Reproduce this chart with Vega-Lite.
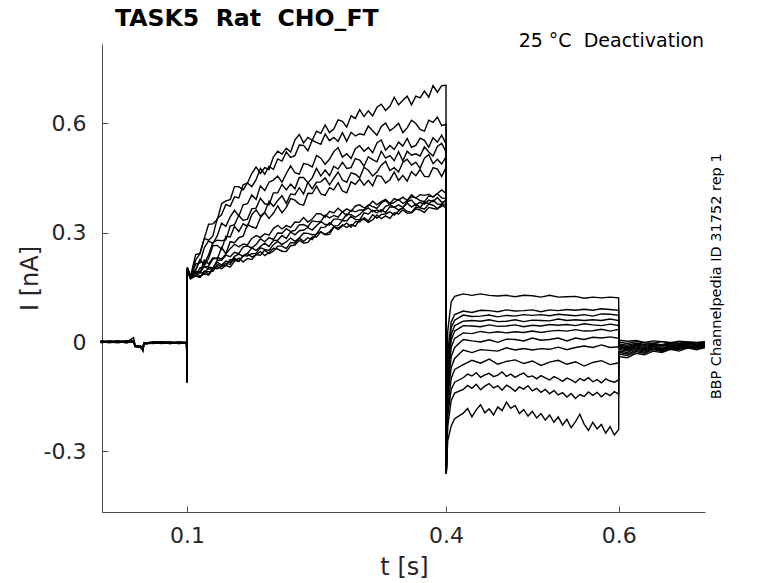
{
  "$schema": "https://vega.github.io/schema/vega-lite/v6.json",
  "width": 603,
  "height": 468,
  "autosize": "none",
  "padding": {"left": 102, "top": 44, "right": 73, "bottom": 71},
  "background": "white",
  "config": {"view": {"stroke": null}, "font": "DejaVu Sans"},
  "layer": [
    {
      "data": {
        "values": [
          {"sweep":1,"t":0,"I":0.002},{"sweep":1,"t":0.01,"I":-0.001},{"sweep":1,"t":0.02,"I":0.003},{"sweep":1,"t":0.03,"I":0},{"sweep":1,"t":0.038,"I":0.012},{"sweep":1,"t":0.04,"I":-0.01},{"sweep":1,"t":0.046,"I":-0.012},{"sweep":1,"t":0.049,"I":-0.025},{"sweep":1,"t":0.05,"I":-0.004},{"sweep":1,"t":0.06,"I":-0.001},{"sweep":1,"t":0.07,"I":0.001},{"sweep":1,"t":0.08,"I":-0.003},{"sweep":1,"t":0.09,"I":0},{"sweep":1,"t":0.0995,"I":-0.002},
          {"sweep":1,"t":0.1,"I":-0.11},{"sweep":1,"t":0.1003,"I":0.205},{"sweep":1,"t":0.104,"I":0.18},
          {"sweep":1,"t":0.11,"I":0.24},{"sweep":1,"t":0.115,"I":0.243},{"sweep":1,"t":0.12,"I":0.284},{"sweep":1,"t":0.125,"I":0.323},{"sweep":1,"t":0.13,"I":0.324},{"sweep":1,"t":0.135,"I":0.335},{"sweep":1,"t":0.14,"I":0.379},{"sweep":1,"t":0.145,"I":0.387},{"sweep":1,"t":0.15,"I":0.39},{"sweep":1,"t":0.155,"I":0.426},{"sweep":1,"t":0.16,"I":0.426},{"sweep":1,"t":0.165,"I":0.417},{"sweep":1,"t":0.17,"I":0.436},{"sweep":1,"t":0.175,"I":0.462},{"sweep":1,"t":0.18,"I":0.48},{"sweep":1,"t":0.185,"I":0.462},{"sweep":1,"t":0.19,"I":0.478},{"sweep":1,"t":0.195,"I":0.473},{"sweep":1,"t":0.2,"I":0.507},{"sweep":1,"t":0.205,"I":0.523},{"sweep":1,"t":0.21,"I":0.515},{"sweep":1,"t":0.215,"I":0.531},{"sweep":1,"t":0.22,"I":0.521},{"sweep":1,"t":0.225,"I":0.554},{"sweep":1,"t":0.23,"I":0.569},{"sweep":1,"t":0.235,"I":0.546},{"sweep":1,"t":0.24,"I":0.561},{"sweep":1,"t":0.245,"I":0.553},{"sweep":1,"t":0.25,"I":0.578},{"sweep":1,"t":0.255,"I":0.572},{"sweep":1,"t":0.26,"I":0.595},{"sweep":1,"t":0.265,"I":0.574},{"sweep":1,"t":0.27,"I":0.584},{"sweep":1,"t":0.275,"I":0.609},{"sweep":1,"t":0.28,"I":0.605},{"sweep":1,"t":0.285,"I":0.589},{"sweep":1,"t":0.29,"I":0.62},{"sweep":1,"t":0.295,"I":0.613},{"sweep":1,"t":0.3,"I":0.637},{"sweep":1,"t":0.305,"I":0.618},{"sweep":1,"t":0.31,"I":0.634},{"sweep":1,"t":0.315,"I":0.62},{"sweep":1,"t":0.32,"I":0.644},{"sweep":1,"t":0.325,"I":0.652},{"sweep":1,"t":0.33,"I":0.635},{"sweep":1,"t":0.335,"I":0.646},{"sweep":1,"t":0.34,"I":0.671},{"sweep":1,"t":0.345,"I":0.65},{"sweep":1,"t":0.35,"I":0.663},{"sweep":1,"t":0.355,"I":0.674},{"sweep":1,"t":0.36,"I":0.65},{"sweep":1,"t":0.365,"I":0.674},{"sweep":1,"t":0.37,"I":0.669},{"sweep":1,"t":0.375,"I":0.688},{"sweep":1,"t":0.38,"I":0.671},{"sweep":1,"t":0.385,"I":0.703},{"sweep":1,"t":0.39,"I":0.685},{"sweep":1,"t":0.395,"I":0.703},{"sweep":1,"t":0.4,"I":0.704},
          {"sweep":1,"t":0.4003,"I":-0.36},{"sweep":1,"t":0.402,"I":0.03},{"sweep":1,"t":0.406,"I":0.11},{"sweep":1,"t":0.41,"I":0.125},{"sweep":1,"t":0.42,"I":0.132},{"sweep":1,"t":0.43,"I":0.128},{"sweep":1,"t":0.44,"I":0.132},{"sweep":1,"t":0.45,"I":0.128},{"sweep":1,"t":0.46,"I":0.126},{"sweep":1,"t":0.47,"I":0.128},{"sweep":1,"t":0.48,"I":0.124},{"sweep":1,"t":0.49,"I":0.128},{"sweep":1,"t":0.5,"I":0.127},{"sweep":1,"t":0.51,"I":0.123},{"sweep":1,"t":0.52,"I":0.128},{"sweep":1,"t":0.53,"I":0.123},{"sweep":1,"t":0.54,"I":0.124},{"sweep":1,"t":0.55,"I":0.125},{"sweep":1,"t":0.56,"I":0.12},{"sweep":1,"t":0.57,"I":0.123},{"sweep":1,"t":0.58,"I":0.121},{"sweep":1,"t":0.59,"I":0.123},{"sweep":1,"t":0.6,"I":0.121},
          {"sweep":1,"t":0.6003,"I":0.005},{"sweep":1,"t":0.61,"I":0.002},{"sweep":1,"t":0.62,"I":0.004},{"sweep":1,"t":0.63,"I":-0.001},{"sweep":1,"t":0.64,"I":0.003},{"sweep":1,"t":0.65,"I":0.001},{"sweep":1,"t":0.66,"I":-0.002},{"sweep":1,"t":0.67,"I":0.002},{"sweep":1,"t":0.68,"I":0},{"sweep":1,"t":0.69,"I":-0.001},{"sweep":1,"t":0.7,"I":0.001},

          {"sweep":2,"t":0,"I":-0.001},{"sweep":2,"t":0.01,"I":0.002},{"sweep":2,"t":0.02,"I":0},{"sweep":2,"t":0.03,"I":0.003},{"sweep":2,"t":0.038,"I":0.004},{"sweep":2,"t":0.04,"I":-0.012},{"sweep":2,"t":0.046,"I":-0.014},{"sweep":2,"t":0.049,"I":-0.022},{"sweep":2,"t":0.05,"I":-0.006},{"sweep":2,"t":0.06,"I":-0.003},{"sweep":2,"t":0.07,"I":-0.001},{"sweep":2,"t":0.08,"I":-0.004},{"sweep":2,"t":0.09,"I":-0.002},{"sweep":2,"t":0.0995,"I":-0.003},
          {"sweep":2,"t":0.1,"I":-0.108},{"sweep":2,"t":0.1003,"I":0.2},{"sweep":2,"t":0.104,"I":0.178},
          {"sweep":2,"t":0.11,"I":0.225},{"sweep":2,"t":0.115,"I":0.242},{"sweep":2,"t":0.12,"I":0.284},{"sweep":2,"t":0.125,"I":0.279},{"sweep":2,"t":0.13,"I":0.291},{"sweep":2,"t":0.135,"I":0.339},{"sweep":2,"t":0.14,"I":0.349},{"sweep":2,"t":0.145,"I":0.377},{"sweep":2,"t":0.15,"I":0.372},{"sweep":2,"t":0.155,"I":0.398},{"sweep":2,"t":0.16,"I":0.395},{"sweep":2,"t":0.165,"I":0.431},{"sweep":2,"t":0.17,"I":0.436},{"sweep":2,"t":0.175,"I":0.426},{"sweep":2,"t":0.18,"I":0.445},{"sweep":2,"t":0.185,"I":0.476},{"sweep":2,"t":0.19,"I":0.46},{"sweep":2,"t":0.195,"I":0.482},{"sweep":2,"t":0.2,"I":0.473},{"sweep":2,"t":0.205,"I":0.502},{"sweep":2,"t":0.21,"I":0.496},{"sweep":2,"t":0.215,"I":0.521},{"sweep":2,"t":0.22,"I":0.506},{"sweep":2,"t":0.225,"I":0.511},{"sweep":2,"t":0.23,"I":0.54},{"sweep":2,"t":0.235,"I":0.539},{"sweep":2,"t":0.24,"I":0.524},{"sweep":2,"t":0.245,"I":0.553},{"sweep":2,"t":0.25,"I":0.547},{"sweep":2,"t":0.255,"I":0.542},{"sweep":2,"t":0.26,"I":0.57},{"sweep":2,"t":0.265,"I":0.552},{"sweep":2,"t":0.27,"I":0.561},{"sweep":2,"t":0.275,"I":0.55},{"sweep":2,"t":0.28,"I":0.574},{"sweep":2,"t":0.285,"I":0.55},{"sweep":2,"t":0.29,"I":0.575},{"sweep":2,"t":0.295,"I":0.565},{"sweep":2,"t":0.3,"I":0.571},{"sweep":2,"t":0.305,"I":0.568},{"sweep":2,"t":0.31,"I":0.592},{"sweep":2,"t":0.315,"I":0.579},{"sweep":2,"t":0.32,"I":0.567},{"sweep":2,"t":0.325,"I":0.591},{"sweep":2,"t":0.33,"I":0.6},{"sweep":2,"t":0.335,"I":0.579},{"sweep":2,"t":0.34,"I":0.588},{"sweep":2,"t":0.345,"I":0.6},{"sweep":2,"t":0.35,"I":0.574},{"sweep":2,"t":0.355,"I":0.587},{"sweep":2,"t":0.36,"I":0.608},{"sweep":2,"t":0.365,"I":0.599},{"sweep":2,"t":0.37,"I":0.583},{"sweep":2,"t":0.375,"I":0.578},{"sweep":2,"t":0.38,"I":0.608},{"sweep":2,"t":0.385,"I":0.602},{"sweep":2,"t":0.39,"I":0.617},{"sweep":2,"t":0.395,"I":0.593},{"sweep":2,"t":0.4,"I":0.597},
          {"sweep":2,"t":0.4003,"I":-0.36},{"sweep":2,"t":0.402,"I":-0.03},{"sweep":2,"t":0.406,"I":0.055},{"sweep":2,"t":0.41,"I":0.075},{"sweep":2,"t":0.42,"I":0.085},{"sweep":2,"t":0.43,"I":0.081},{"sweep":2,"t":0.44,"I":0.087},{"sweep":2,"t":0.45,"I":0.086},{"sweep":2,"t":0.46,"I":0.083},{"sweep":2,"t":0.47,"I":0.088},{"sweep":2,"t":0.48,"I":0.085},{"sweep":2,"t":0.49,"I":0.086},{"sweep":2,"t":0.5,"I":0.088},{"sweep":2,"t":0.51,"I":0.083},{"sweep":2,"t":0.52,"I":0.088},{"sweep":2,"t":0.53,"I":0.086},{"sweep":2,"t":0.54,"I":0.089},{"sweep":2,"t":0.55,"I":0.087},{"sweep":2,"t":0.56,"I":0.09},{"sweep":2,"t":0.57,"I":0.087},{"sweep":2,"t":0.58,"I":0.091},{"sweep":2,"t":0.59,"I":0.089},{"sweep":2,"t":0.6,"I":0.087},
          {"sweep":2,"t":0.6003,"I":0},{"sweep":2,"t":0.61,"I":-0.004},{"sweep":2,"t":0.62,"I":0.001},{"sweep":2,"t":0.63,"I":-0.002},{"sweep":2,"t":0.64,"I":-0.003},{"sweep":2,"t":0.65,"I":0.001},{"sweep":2,"t":0.66,"I":-0.002},{"sweep":2,"t":0.67,"I":-0.003},{"sweep":2,"t":0.68,"I":0},{"sweep":2,"t":0.69,"I":-0.002},{"sweep":2,"t":0.7,"I":-0.001},

          {"sweep":3,"t":0,"I":0.003},{"sweep":3,"t":0.01,"I":0},{"sweep":3,"t":0.02,"I":0.002},{"sweep":3,"t":0.03,"I":-0.002},{"sweep":3,"t":0.038,"I":0.002},{"sweep":3,"t":0.04,"I":-0.011},{"sweep":3,"t":0.046,"I":-0.013},{"sweep":3,"t":0.049,"I":-0.018},{"sweep":3,"t":0.05,"I":-0.003},{"sweep":3,"t":0.06,"I":0},{"sweep":3,"t":0.07,"I":-0.003},{"sweep":3,"t":0.08,"I":-0.001},{"sweep":3,"t":0.09,"I":-0.004},{"sweep":3,"t":0.0995,"I":-0.001},
          {"sweep":3,"t":0.1,"I":-0.112},{"sweep":3,"t":0.1003,"I":0.198},{"sweep":3,"t":0.104,"I":0.176},
          {"sweep":3,"t":0.11,"I":0.214},{"sweep":3,"t":0.115,"I":0.217},{"sweep":3,"t":0.12,"I":0.259},{"sweep":3,"t":0.125,"I":0.277},{"sweep":3,"t":0.13,"I":0.27},{"sweep":3,"t":0.135,"I":0.291},{"sweep":3,"t":0.14,"I":0.326},{"sweep":3,"t":0.145,"I":0.317},{"sweep":3,"t":0.15,"I":0.343},{"sweep":3,"t":0.155,"I":0.361},{"sweep":3,"t":0.16,"I":0.345},{"sweep":3,"t":0.165,"I":0.376},{"sweep":3,"t":0.17,"I":0.379},{"sweep":3,"t":0.175,"I":0.403},{"sweep":3,"t":0.18,"I":0.391},{"sweep":3,"t":0.185,"I":0.428},{"sweep":3,"t":0.19,"I":0.415},{"sweep":3,"t":0.195,"I":0.438},{"sweep":3,"t":0.2,"I":0.444},{"sweep":3,"t":0.205,"I":0.455},{"sweep":3,"t":0.21,"I":0.438},{"sweep":3,"t":0.215,"I":0.462},{"sweep":3,"t":0.22,"I":0.483},{"sweep":3,"t":0.225,"I":0.464},{"sweep":3,"t":0.23,"I":0.46},{"sweep":3,"t":0.235,"I":0.489},{"sweep":3,"t":0.24,"I":0.487},{"sweep":3,"t":0.245,"I":0.48},{"sweep":3,"t":0.25,"I":0.511},{"sweep":3,"t":0.255,"I":0.504},{"sweep":3,"t":0.26,"I":0.487},{"sweep":3,"t":0.265,"I":0.501},{"sweep":3,"t":0.27,"I":0.522},{"sweep":3,"t":0.275,"I":0.533},{"sweep":3,"t":0.28,"I":0.507},{"sweep":3,"t":0.285,"I":0.516},{"sweep":3,"t":0.29,"I":0.503},{"sweep":3,"t":0.295,"I":0.53},{"sweep":3,"t":0.3,"I":0.538},{"sweep":3,"t":0.305,"I":0.523},{"sweep":3,"t":0.31,"I":0.533},{"sweep":3,"t":0.315,"I":0.519},{"sweep":3,"t":0.32,"I":0.546},{"sweep":3,"t":0.325,"I":0.554},{"sweep":3,"t":0.33,"I":0.526},{"sweep":3,"t":0.335,"I":0.539},{"sweep":3,"t":0.34,"I":0.528},{"sweep":3,"t":0.345,"I":0.548},{"sweep":3,"t":0.35,"I":0.537},{"sweep":3,"t":0.355,"I":0.558},{"sweep":3,"t":0.36,"I":0.534},{"sweep":3,"t":0.365,"I":0.539},{"sweep":3,"t":0.37,"I":0.559},{"sweep":3,"t":0.375,"I":0.553},{"sweep":3,"t":0.38,"I":0.534},{"sweep":3,"t":0.385,"I":0.56},{"sweep":3,"t":0.39,"I":0.548},{"sweep":3,"t":0.395,"I":0.567},{"sweep":3,"t":0.4,"I":0.543},
          {"sweep":3,"t":0.4003,"I":-0.36},{"sweep":3,"t":0.402,"I":-0.05},{"sweep":3,"t":0.406,"I":0.04},{"sweep":3,"t":0.41,"I":0.06},{"sweep":3,"t":0.42,"I":0.074},{"sweep":3,"t":0.43,"I":0.07},{"sweep":3,"t":0.44,"I":0.071},{"sweep":3,"t":0.45,"I":0.074},{"sweep":3,"t":0.46,"I":0.069},{"sweep":3,"t":0.47,"I":0.073},{"sweep":3,"t":0.48,"I":0.071},{"sweep":3,"t":0.49,"I":0.075},{"sweep":3,"t":0.5,"I":0.073},{"sweep":3,"t":0.51,"I":0.075},{"sweep":3,"t":0.52,"I":0.072},{"sweep":3,"t":0.53,"I":0.076},{"sweep":3,"t":0.54,"I":0.074},{"sweep":3,"t":0.55,"I":0.072},{"sweep":3,"t":0.56,"I":0.075},{"sweep":3,"t":0.57,"I":0.071},{"sweep":3,"t":0.58,"I":0.077},{"sweep":3,"t":0.59,"I":0.076},{"sweep":3,"t":0.6,"I":0.073},
          {"sweep":3,"t":0.6003,"I":-0.005},{"sweep":3,"t":0.61,"I":-0.009},{"sweep":3,"t":0.62,"I":-0.003},{"sweep":3,"t":0.63,"I":-0.006},{"sweep":3,"t":0.64,"I":-0.004},{"sweep":3,"t":0.65,"I":-0.007},{"sweep":3,"t":0.66,"I":-0.001},{"sweep":3,"t":0.67,"I":-0.004},{"sweep":3,"t":0.68,"I":-0.003},{"sweep":3,"t":0.69,"I":-0.005},{"sweep":3,"t":0.7,"I":-0.002},

          {"sweep":4,"t":0,"I":0},{"sweep":4,"t":0.01,"I":0.003},{"sweep":4,"t":0.02,"I":-0.001},{"sweep":4,"t":0.03,"I":0.002},{"sweep":4,"t":0.038,"I":0.003},{"sweep":4,"t":0.04,"I":-0.009},{"sweep":4,"t":0.046,"I":-0.015},{"sweep":4,"t":0.049,"I":-0.02},{"sweep":4,"t":0.05,"I":-0.005},{"sweep":4,"t":0.06,"I":-0.002},{"sweep":4,"t":0.07,"I":0},{"sweep":4,"t":0.08,"I":-0.002},{"sweep":4,"t":0.09,"I":-0.001},{"sweep":4,"t":0.0995,"I":-0.004},
          {"sweep":4,"t":0.1,"I":-0.106},{"sweep":4,"t":0.1003,"I":0.202},{"sweep":4,"t":0.104,"I":0.182},
          {"sweep":4,"t":0.11,"I":0.198},{"sweep":4,"t":0.115,"I":0.225},{"sweep":4,"t":0.12,"I":0.214},{"sweep":4,"t":0.125,"I":0.239},{"sweep":4,"t":0.13,"I":0.273},{"sweep":4,"t":0.135,"I":0.279},{"sweep":4,"t":0.14,"I":0.278},{"sweep":4,"t":0.145,"I":0.28},{"sweep":4,"t":0.15,"I":0.318},{"sweep":4,"t":0.155,"I":0.322},{"sweep":4,"t":0.16,"I":0.347},{"sweep":4,"t":0.165,"I":0.333},{"sweep":4,"t":0.17,"I":0.337},{"sweep":4,"t":0.175,"I":0.365},{"sweep":4,"t":0.18,"I":0.367},{"sweep":4,"t":0.185,"I":0.394},{"sweep":4,"t":0.19,"I":0.379},{"sweep":4,"t":0.195,"I":0.376},{"sweep":4,"t":0.2,"I":0.409},{"sweep":4,"t":0.205,"I":0.409},{"sweep":4,"t":0.21,"I":0.432},{"sweep":4,"t":0.215,"I":0.417},{"sweep":4,"t":0.22,"I":0.433},{"sweep":4,"t":0.225,"I":0.42},{"sweep":4,"t":0.23,"I":0.451},{"sweep":4,"t":0.235,"I":0.451},{"sweep":4,"t":0.24,"I":0.436},{"sweep":4,"t":0.245,"I":0.45},{"sweep":4,"t":0.25,"I":0.476},{"sweep":4,"t":0.255,"I":0.455},{"sweep":4,"t":0.26,"I":0.472},{"sweep":4,"t":0.265,"I":0.456},{"sweep":4,"t":0.27,"I":0.482},{"sweep":4,"t":0.275,"I":0.474},{"sweep":4,"t":0.28,"I":0.493},{"sweep":4,"t":0.285,"I":0.476},{"sweep":4,"t":0.29,"I":0.478},{"sweep":4,"t":0.295,"I":0.503},{"sweep":4,"t":0.3,"I":0.499},{"sweep":4,"t":0.305,"I":0.482},{"sweep":4,"t":0.31,"I":0.508},{"sweep":4,"t":0.315,"I":0.5},{"sweep":4,"t":0.32,"I":0.494},{"sweep":4,"t":0.325,"I":0.523},{"sweep":4,"t":0.33,"I":0.504},{"sweep":4,"t":0.335,"I":0.511},{"sweep":4,"t":0.34,"I":0.497},{"sweep":4,"t":0.345,"I":0.522},{"sweep":4,"t":0.35,"I":0.497},{"sweep":4,"t":0.355,"I":0.523},{"sweep":4,"t":0.36,"I":0.512},{"sweep":4,"t":0.365,"I":0.516},{"sweep":4,"t":0.37,"I":0.51},{"sweep":4,"t":0.375,"I":0.535},{"sweep":4,"t":0.38,"I":0.521},{"sweep":4,"t":0.385,"I":0.51},{"sweep":4,"t":0.39,"I":0.536},{"sweep":4,"t":0.395,"I":0.545},{"sweep":4,"t":0.4,"I":0.521},
          {"sweep":4,"t":0.4003,"I":-0.36},{"sweep":4,"t":0.402,"I":-0.07},{"sweep":4,"t":0.406,"I":0.02},{"sweep":4,"t":0.41,"I":0.045},{"sweep":4,"t":0.42,"I":0.057},{"sweep":4,"t":0.43,"I":0.059},{"sweep":4,"t":0.44,"I":0.057},{"sweep":4,"t":0.45,"I":0.061},{"sweep":4,"t":0.46,"I":0.056},{"sweep":4,"t":0.47,"I":0.057},{"sweep":4,"t":0.48,"I":0.061},{"sweep":4,"t":0.49,"I":0.056},{"sweep":4,"t":0.5,"I":0.06},{"sweep":4,"t":0.51,"I":0.059},{"sweep":4,"t":0.52,"I":0.058},{"sweep":4,"t":0.53,"I":0.063},{"sweep":4,"t":0.54,"I":0.059},{"sweep":4,"t":0.55,"I":0.061},{"sweep":4,"t":0.56,"I":0.059},{"sweep":4,"t":0.57,"I":0.061},{"sweep":4,"t":0.58,"I":0.059},{"sweep":4,"t":0.59,"I":0.063},{"sweep":4,"t":0.6,"I":0.059},
          {"sweep":4,"t":0.6003,"I":-0.008},{"sweep":4,"t":0.61,"I":-0.013},{"sweep":4,"t":0.62,"I":-0.006},{"sweep":4,"t":0.63,"I":-0.009},{"sweep":4,"t":0.64,"I":-0.006},{"sweep":4,"t":0.65,"I":-0.01},{"sweep":4,"t":0.66,"I":-0.004},{"sweep":4,"t":0.67,"I":-0.007},{"sweep":4,"t":0.68,"I":-0.005},{"sweep":4,"t":0.69,"I":-0.008},{"sweep":4,"t":0.7,"I":-0.004},

          {"sweep":5,"t":0,"I":-0.002},{"sweep":5,"t":0.01,"I":0.001},{"sweep":5,"t":0.02,"I":0.002},{"sweep":5,"t":0.03,"I":-0.001},{"sweep":5,"t":0.038,"I":0.001},{"sweep":5,"t":0.04,"I":-0.012},{"sweep":5,"t":0.046,"I":-0.011},{"sweep":5,"t":0.049,"I":-0.016},{"sweep":5,"t":0.05,"I":-0.002},{"sweep":5,"t":0.06,"I":-0.004},{"sweep":5,"t":0.07,"I":-0.002},{"sweep":5,"t":0.08,"I":0},{"sweep":5,"t":0.09,"I":-0.003},{"sweep":5,"t":0.0995,"I":-0.002},
          {"sweep":5,"t":0.1,"I":-0.11},{"sweep":5,"t":0.1003,"I":0.196},{"sweep":5,"t":0.104,"I":0.174},
          {"sweep":5,"t":0.11,"I":0.197},{"sweep":5,"t":0.115,"I":0.225},{"sweep":5,"t":0.12,"I":0.209},{"sweep":5,"t":0.125,"I":0.229},{"sweep":5,"t":0.13,"I":0.264},{"sweep":5,"t":0.135,"I":0.265},{"sweep":5,"t":0.14,"I":0.254},{"sweep":5,"t":0.145,"I":0.29},{"sweep":5,"t":0.15,"I":0.288},{"sweep":5,"t":0.155,"I":0.317},{"sweep":5,"t":0.16,"I":0.303},{"sweep":5,"t":0.165,"I":0.324},{"sweep":5,"t":0.17,"I":0.317},{"sweep":5,"t":0.175,"I":0.349},{"sweep":5,"t":0.18,"I":0.362},{"sweep":5,"t":0.185,"I":0.345},{"sweep":5,"t":0.19,"I":0.356},{"sweep":5,"t":0.195,"I":0.386},{"sweep":5,"t":0.2,"I":0.372},{"sweep":5,"t":0.205,"I":0.388},{"sweep":5,"t":0.21,"I":0.401},{"sweep":5,"t":0.215,"I":0.38},{"sweep":5,"t":0.22,"I":0.406},{"sweep":5,"t":0.225,"I":0.404},{"sweep":5,"t":0.23,"I":0.423},{"sweep":5,"t":0.235,"I":0.406},{"sweep":5,"t":0.24,"I":0.438},{"sweep":5,"t":0.245,"I":0.42},{"sweep":5,"t":0.25,"I":0.438},{"sweep":5,"t":0.255,"I":0.439},{"sweep":5,"t":0.26,"I":0.45},{"sweep":5,"t":0.265,"I":0.431},{"sweep":5,"t":0.27,"I":0.449},{"sweep":5,"t":0.275,"I":0.466},{"sweep":5,"t":0.28,"I":0.444},{"sweep":5,"t":0.285,"I":0.438},{"sweep":5,"t":0.29,"I":0.464},{"sweep":5,"t":0.295,"I":0.46},{"sweep":5,"t":0.3,"I":0.45},{"sweep":5,"t":0.305,"I":0.479},{"sweep":5,"t":0.31,"I":0.471},{"sweep":5,"t":0.315,"I":0.455},{"sweep":5,"t":0.32,"I":0.466},{"sweep":5,"t":0.325,"I":0.485},{"sweep":5,"t":0.33,"I":0.495},{"sweep":5,"t":0.335,"I":0.47},{"sweep":5,"t":0.34,"I":0.478},{"sweep":5,"t":0.345,"I":0.466},{"sweep":5,"t":0.35,"I":0.492},{"sweep":5,"t":0.355,"I":0.501},{"sweep":5,"t":0.36,"I":0.485},{"sweep":5,"t":0.365,"I":0.493},{"sweep":5,"t":0.37,"I":0.476},{"sweep":5,"t":0.375,"I":0.504},{"sweep":5,"t":0.38,"I":0.514},{"sweep":5,"t":0.385,"I":0.489},{"sweep":5,"t":0.39,"I":0.501},{"sweep":5,"t":0.395,"I":0.488},{"sweep":5,"t":0.4,"I":0.508},
          {"sweep":5,"t":0.4003,"I":-0.36},{"sweep":5,"t":0.402,"I":-0.09},{"sweep":5,"t":0.406,"I":0.005},{"sweep":5,"t":0.41,"I":0.03},{"sweep":5,"t":0.42,"I":0.045},{"sweep":5,"t":0.43,"I":0.044},{"sweep":5,"t":0.44,"I":0.042},{"sweep":5,"t":0.45,"I":0.047},{"sweep":5,"t":0.46,"I":0.043},{"sweep":5,"t":0.47,"I":0.044},{"sweep":5,"t":0.48,"I":0.047},{"sweep":5,"t":0.49,"I":0.042},{"sweep":5,"t":0.5,"I":0.046},{"sweep":5,"t":0.51,"I":0.044},{"sweep":5,"t":0.52,"I":0.048},{"sweep":5,"t":0.53,"I":0.046},{"sweep":5,"t":0.54,"I":0.048},{"sweep":5,"t":0.55,"I":0.045},{"sweep":5,"t":0.56,"I":0.05},{"sweep":5,"t":0.57,"I":0.047},{"sweep":5,"t":0.58,"I":0.045},{"sweep":5,"t":0.59,"I":0.049},{"sweep":5,"t":0.6,"I":0.045},
          {"sweep":5,"t":0.6003,"I":-0.01},{"sweep":5,"t":0.61,"I":-0.016},{"sweep":5,"t":0.62,"I":-0.008},{"sweep":5,"t":0.63,"I":-0.012},{"sweep":5,"t":0.64,"I":-0.009},{"sweep":5,"t":0.65,"I":-0.01},{"sweep":5,"t":0.66,"I":-0.005},{"sweep":5,"t":0.67,"I":-0.011},{"sweep":5,"t":0.68,"I":-0.006},{"sweep":5,"t":0.69,"I":-0.008},{"sweep":5,"t":0.7,"I":-0.007},

          {"sweep":6,"t":0,"I":0.001},{"sweep":6,"t":0.01,"I":-0.002},{"sweep":6,"t":0.02,"I":0.001},{"sweep":6,"t":0.03,"I":0.002},{"sweep":6,"t":0.038,"I":0.002},{"sweep":6,"t":0.04,"I":-0.01},{"sweep":6,"t":0.046,"I":-0.013},{"sweep":6,"t":0.049,"I":-0.019},{"sweep":6,"t":0.05,"I":-0.004},{"sweep":6,"t":0.06,"I":-0.001},{"sweep":6,"t":0.07,"I":-0.003},{"sweep":6,"t":0.08,"I":-0.002},{"sweep":6,"t":0.09,"I":0},{"sweep":6,"t":0.0995,"I":-0.001},
          {"sweep":6,"t":0.1,"I":-0.109},{"sweep":6,"t":0.1003,"I":0.204},{"sweep":6,"t":0.104,"I":0.18},
          {"sweep":6,"t":0.11,"I":0.192},{"sweep":6,"t":0.115,"I":0.189},{"sweep":6,"t":0.12,"I":0.225},{"sweep":6,"t":0.125,"I":0.214},{"sweep":6,"t":0.13,"I":0.231},{"sweep":6,"t":0.135,"I":0.227},{"sweep":6,"t":0.14,"I":0.259},{"sweep":6,"t":0.145,"I":0.242},{"sweep":6,"t":0.15,"I":0.275},{"sweep":6,"t":0.155,"I":0.272},{"sweep":6,"t":0.16,"I":0.286},{"sweep":6,"t":0.165,"I":0.29},{"sweep":6,"t":0.17,"I":0.322},{"sweep":6,"t":0.175,"I":0.316},{"sweep":6,"t":0.18,"I":0.312},{"sweep":6,"t":0.185,"I":0.341},{"sweep":6,"t":0.19,"I":0.355},{"sweep":6,"t":0.195,"I":0.339},{"sweep":6,"t":0.2,"I":0.353},{"sweep":6,"t":0.205,"I":0.373},{"sweep":6,"t":0.21,"I":0.354},{"sweep":6,"t":0.215,"I":0.369},{"sweep":6,"t":0.22,"I":0.393},{"sweep":6,"t":0.225,"I":0.389},{"sweep":6,"t":0.23,"I":0.378},{"sweep":6,"t":0.235,"I":0.375},{"sweep":6,"t":0.24,"I":0.408},{"sweep":6,"t":0.245,"I":0.407},{"sweep":6,"t":0.25,"I":0.427},{"sweep":6,"t":0.255,"I":0.406},{"sweep":6,"t":0.26,"I":0.402},{"sweep":6,"t":0.265,"I":0.423},{"sweep":6,"t":0.27,"I":0.417},{"sweep":6,"t":0.275,"I":0.437},{"sweep":6,"t":0.28,"I":0.414},{"sweep":6,"t":0.285,"I":0.409},{"sweep":6,"t":0.29,"I":0.439},{"sweep":6,"t":0.295,"I":0.432},{"sweep":6,"t":0.3,"I":0.447},{"sweep":6,"t":0.305,"I":0.43},{"sweep":6,"t":0.31,"I":0.443},{"sweep":6,"t":0.315,"I":0.428},{"sweep":6,"t":0.32,"I":0.456},{"sweep":6,"t":0.325,"I":0.454},{"sweep":6,"t":0.33,"I":0.436},{"sweep":6,"t":0.335,"I":0.445},{"sweep":6,"t":0.34,"I":0.466},{"sweep":6,"t":0.345,"I":0.443},{"sweep":6,"t":0.35,"I":0.457},{"sweep":6,"t":0.355,"I":0.441},{"sweep":6,"t":0.36,"I":0.467},{"sweep":6,"t":0.365,"I":0.456},{"sweep":6,"t":0.37,"I":0.473},{"sweep":6,"t":0.375,"I":0.454},{"sweep":6,"t":0.38,"I":0.453},{"sweep":6,"t":0.385,"I":0.478},{"sweep":6,"t":0.39,"I":0.474},{"sweep":6,"t":0.395,"I":0.454},{"sweep":6,"t":0.4,"I":0.478},
          {"sweep":6,"t":0.4003,"I":-0.36},{"sweep":6,"t":0.402,"I":-0.11},{"sweep":6,"t":0.406,"I":-0.015},{"sweep":6,"t":0.41,"I":0.01},{"sweep":6,"t":0.42,"I":0.025},{"sweep":6,"t":0.43,"I":0.023},{"sweep":6,"t":0.44,"I":0.029},{"sweep":6,"t":0.45,"I":0.025},{"sweep":6,"t":0.46,"I":0.028},{"sweep":6,"t":0.47,"I":0.025},{"sweep":6,"t":0.48,"I":0.028},{"sweep":6,"t":0.49,"I":0.026},{"sweep":6,"t":0.5,"I":0.03},{"sweep":6,"t":0.51,"I":0.026},{"sweep":6,"t":0.52,"I":0.03},{"sweep":6,"t":0.53,"I":0.032},{"sweep":6,"t":0.54,"I":0.03},{"sweep":6,"t":0.55,"I":0.034},{"sweep":6,"t":0.56,"I":0.03},{"sweep":6,"t":0.57,"I":0.031},{"sweep":6,"t":0.58,"I":0.035},{"sweep":6,"t":0.59,"I":0.03},{"sweep":6,"t":0.6,"I":0.035},
          {"sweep":6,"t":0.6003,"I":-0.013},{"sweep":6,"t":0.61,"I":-0.019},{"sweep":6,"t":0.62,"I":-0.01},{"sweep":6,"t":0.63,"I":-0.016},{"sweep":6,"t":0.64,"I":-0.008},{"sweep":6,"t":0.65,"I":-0.012},{"sweep":6,"t":0.66,"I":-0.009},{"sweep":6,"t":0.67,"I":-0.011},{"sweep":6,"t":0.68,"I":-0.006},{"sweep":6,"t":0.69,"I":-0.01},{"sweep":6,"t":0.7,"I":-0.008},

          {"sweep":7,"t":0,"I":0.002},{"sweep":7,"t":0.01,"I":0},{"sweep":7,"t":0.02,"I":-0.002},{"sweep":7,"t":0.03,"I":0.001},{"sweep":7,"t":0.038,"I":0.001},{"sweep":7,"t":0.04,"I":-0.011},{"sweep":7,"t":0.046,"I":-0.012},{"sweep":7,"t":0.049,"I":-0.017},{"sweep":7,"t":0.05,"I":-0.003},{"sweep":7,"t":0.06,"I":-0.002},{"sweep":7,"t":0.07,"I":0},{"sweep":7,"t":0.08,"I":-0.004},{"sweep":7,"t":0.09,"I":-0.002},{"sweep":7,"t":0.0995,"I":-0.003},
          {"sweep":7,"t":0.1,"I":-0.107},{"sweep":7,"t":0.1003,"I":0.199},{"sweep":7,"t":0.104,"I":0.177},
          {"sweep":7,"t":0.11,"I":0.182},{"sweep":7,"t":0.115,"I":0.203},{"sweep":7,"t":0.12,"I":0.206},{"sweep":7,"t":0.125,"I":0.208},{"sweep":7,"t":0.13,"I":0.228},{"sweep":7,"t":0.135,"I":0.231},{"sweep":7,"t":0.14,"I":0.228},{"sweep":7,"t":0.145,"I":0.241},{"sweep":7,"t":0.15,"I":0.256},{"sweep":7,"t":0.155,"I":0.268},{"sweep":7,"t":0.16,"I":0.261},{"sweep":7,"t":0.165,"I":0.269},{"sweep":7,"t":0.17,"I":0.266},{"sweep":7,"t":0.175,"I":0.284},{"sweep":7,"t":0.18,"I":0.292},{"sweep":7,"t":0.185,"I":0.287},{"sweep":7,"t":0.19,"I":0.297},{"sweep":7,"t":0.195,"I":0.293},{"sweep":7,"t":0.2,"I":0.311},{"sweep":7,"t":0.205,"I":0.32},{"sweep":7,"t":0.21,"I":0.31},{"sweep":7,"t":0.215,"I":0.319},{"sweep":7,"t":0.22,"I":0.314},{"sweep":7,"t":0.225,"I":0.329},{"sweep":7,"t":0.23,"I":0.328},{"sweep":7,"t":0.235,"I":0.341},{"sweep":7,"t":0.24,"I":0.329},{"sweep":7,"t":0.245,"I":0.337},{"sweep":7,"t":0.25,"I":0.352},{"sweep":7,"t":0.255,"I":0.351},{"sweep":7,"t":0.26,"I":0.342},{"sweep":7,"t":0.265,"I":0.358},{"sweep":7,"t":0.27,"I":0.354},{"sweep":7,"t":0.275,"I":0.367},{"sweep":7,"t":0.28,"I":0.356},{"sweep":7,"t":0.285,"I":0.365},{"sweep":7,"t":0.29,"I":0.358},{"sweep":7,"t":0.295,"I":0.373},{"sweep":7,"t":0.3,"I":0.376},{"sweep":7,"t":0.305,"I":0.368},{"sweep":7,"t":0.31,"I":0.373},{"sweep":7,"t":0.315,"I":0.386},{"sweep":7,"t":0.32,"I":0.376},{"sweep":7,"t":0.325,"I":0.385},{"sweep":7,"t":0.33,"I":0.391},{"sweep":7,"t":0.335,"I":0.38},{"sweep":7,"t":0.34,"I":0.393},{"sweep":7,"t":0.345,"I":0.389},{"sweep":7,"t":0.35,"I":0.397},{"sweep":7,"t":0.355,"I":0.388},{"sweep":7,"t":0.36,"I":0.404},{"sweep":7,"t":0.365,"I":0.395},{"sweep":7,"t":0.37,"I":0.404},{"sweep":7,"t":0.375,"I":0.402},{"sweep":7,"t":0.38,"I":0.405},{"sweep":7,"t":0.385,"I":0.397},{"sweep":7,"t":0.39,"I":0.407},{"sweep":7,"t":0.395,"I":0.417},{"sweep":7,"t":0.4,"I":0.407},
          {"sweep":7,"t":0.4003,"I":-0.36},{"sweep":7,"t":0.402,"I":-0.13},{"sweep":7,"t":0.406,"I":-0.04},{"sweep":7,"t":0.41,"I":-0.015},{"sweep":7,"t":0.42,"I":0.007},{"sweep":7,"t":0.43,"I":0.003},{"sweep":7,"t":0.44,"I":0},{"sweep":7,"t":0.45,"I":0.006},{"sweep":7,"t":0.46,"I":-0.001},{"sweep":7,"t":0.47,"I":0.008},{"sweep":7,"t":0.48,"I":0.007},{"sweep":7,"t":0.49,"I":0.003},{"sweep":7,"t":0.5,"I":0.011},{"sweep":7,"t":0.51,"I":0.005},{"sweep":7,"t":0.52,"I":0.007},{"sweep":7,"t":0.53,"I":0.011},{"sweep":7,"t":0.54,"I":0.003},{"sweep":7,"t":0.55,"I":0.011},{"sweep":7,"t":0.56,"I":0.007},{"sweep":7,"t":0.57,"I":0.013},{"sweep":7,"t":0.58,"I":0.011},{"sweep":7,"t":0.59,"I":0.014},{"sweep":7,"t":0.6,"I":0.01},
          {"sweep":7,"t":0.6003,"I":-0.016},{"sweep":7,"t":0.61,"I":-0.022},{"sweep":7,"t":0.62,"I":-0.013},{"sweep":7,"t":0.63,"I":-0.019},{"sweep":7,"t":0.64,"I":-0.011},{"sweep":7,"t":0.65,"I":-0.017},{"sweep":7,"t":0.66,"I":-0.011},{"sweep":7,"t":0.67,"I":-0.013},{"sweep":7,"t":0.68,"I":-0.01},{"sweep":7,"t":0.69,"I":-0.013},{"sweep":7,"t":0.7,"I":-0.009},

          {"sweep":8,"t":0,"I":-0.001},{"sweep":8,"t":0.01,"I":0.002},{"sweep":8,"t":0.02,"I":0.001},{"sweep":8,"t":0.03,"I":-0.002},{"sweep":8,"t":0.038,"I":0.002},{"sweep":8,"t":0.04,"I":-0.013},{"sweep":8,"t":0.046,"I":-0.014},{"sweep":8,"t":0.049,"I":-0.021},{"sweep":8,"t":0.05,"I":-0.005},{"sweep":8,"t":0.06,"I":0},{"sweep":8,"t":0.07,"I":-0.002},{"sweep":8,"t":0.08,"I":-0.001},{"sweep":8,"t":0.09,"I":-0.003},{"sweep":8,"t":0.0995,"I":-0.002},
          {"sweep":8,"t":0.1,"I":-0.111},{"sweep":8,"t":0.1003,"I":0.203},{"sweep":8,"t":0.104,"I":0.183},
          {"sweep":8,"t":0.11,"I":0.188},{"sweep":8,"t":0.115,"I":0.191},{"sweep":8,"t":0.12,"I":0.207},{"sweep":8,"t":0.125,"I":0.2},{"sweep":8,"t":0.13,"I":0.202},{"sweep":8,"t":0.135,"I":0.224},{"sweep":8,"t":0.14,"I":0.224},{"sweep":8,"t":0.145,"I":0.238},{"sweep":8,"t":0.15,"I":0.234},{"sweep":8,"t":0.155,"I":0.246},{"sweep":8,"t":0.16,"I":0.242},{"sweep":8,"t":0.165,"I":0.261},{"sweep":8,"t":0.17,"I":0.263},{"sweep":8,"t":0.175,"I":0.258},{"sweep":8,"t":0.18,"I":0.267},{"sweep":8,"t":0.185,"I":0.283},{"sweep":8,"t":0.19,"I":0.275},{"sweep":8,"t":0.195,"I":0.286},{"sweep":8,"t":0.2,"I":0.281},{"sweep":8,"t":0.205,"I":0.299},{"sweep":8,"t":0.21,"I":0.298},{"sweep":8,"t":0.215,"I":0.311},{"sweep":8,"t":0.22,"I":0.303},{"sweep":8,"t":0.225,"I":0.306},{"sweep":8,"t":0.23,"I":0.321},{"sweep":8,"t":0.235,"I":0.322},{"sweep":8,"t":0.24,"I":0.316},{"sweep":8,"t":0.245,"I":0.332},{"sweep":8,"t":0.25,"I":0.33},{"sweep":8,"t":0.255,"I":0.33},{"sweep":8,"t":0.26,"I":0.348},{"sweep":8,"t":0.265,"I":0.34},{"sweep":8,"t":0.27,"I":0.347},{"sweep":8,"t":0.275,"I":0.342},{"sweep":8,"t":0.28,"I":0.357},{"sweep":8,"t":0.285,"I":0.346},{"sweep":8,"t":0.29,"I":0.361},{"sweep":8,"t":0.295,"I":0.357},{"sweep":8,"t":0.3,"I":0.362},{"sweep":8,"t":0.305,"I":0.362},{"sweep":8,"t":0.31,"I":0.376},{"sweep":8,"t":0.315,"I":0.371},{"sweep":8,"t":0.32,"I":0.366},{"sweep":8,"t":0.325,"I":0.381},{"sweep":8,"t":0.33,"I":0.388},{"sweep":8,"t":0.335,"I":0.377},{"sweep":8,"t":0.34,"I":0.383},{"sweep":8,"t":0.345,"I":0.391},{"sweep":8,"t":0.35,"I":0.38},{"sweep":8,"t":0.355,"I":0.387},{"sweep":8,"t":0.36,"I":0.398},{"sweep":8,"t":0.365,"I":0.395},{"sweep":8,"t":0.37,"I":0.388},{"sweep":8,"t":0.375,"I":0.385},{"sweep":8,"t":0.38,"I":0.4},{"sweep":8,"t":0.385,"I":0.398},{"sweep":8,"t":0.39,"I":0.407},{"sweep":8,"t":0.395,"I":0.395},{"sweep":8,"t":0.4,"I":0.393},
          {"sweep":8,"t":0.4003,"I":-0.36},{"sweep":8,"t":0.402,"I":-0.15},{"sweep":8,"t":0.406,"I":-0.07},{"sweep":8,"t":0.41,"I":-0.045},{"sweep":8,"t":0.42,"I":-0.022},{"sweep":8,"t":0.43,"I":-0.029},{"sweep":8,"t":0.44,"I":-0.021},{"sweep":8,"t":0.45,"I":-0.023},{"sweep":8,"t":0.46,"I":-0.025},{"sweep":8,"t":0.47,"I":-0.016},{"sweep":8,"t":0.48,"I":-0.022},{"sweep":8,"t":0.49,"I":-0.018},{"sweep":8,"t":0.5,"I":-0.022},{"sweep":8,"t":0.51,"I":-0.018},{"sweep":8,"t":0.52,"I":-0.02},{"sweep":8,"t":0.53,"I":-0.014},{"sweep":8,"t":0.54,"I":-0.021},{"sweep":8,"t":0.55,"I":-0.015},{"sweep":8,"t":0.56,"I":-0.011},{"sweep":8,"t":0.57,"I":-0.015},{"sweep":8,"t":0.58,"I":-0.008},{"sweep":8,"t":0.59,"I":-0.015},{"sweep":8,"t":0.6,"I":-0.013},
          {"sweep":8,"t":0.6003,"I":-0.02},{"sweep":8,"t":0.61,"I":-0.025},{"sweep":8,"t":0.62,"I":-0.016},{"sweep":8,"t":0.63,"I":-0.022},{"sweep":8,"t":0.64,"I":-0.013},{"sweep":8,"t":0.65,"I":-0.019},{"sweep":8,"t":0.66,"I":-0.013},{"sweep":8,"t":0.67,"I":-0.015},{"sweep":8,"t":0.68,"I":-0.011},{"sweep":8,"t":0.69,"I":-0.014},{"sweep":8,"t":0.7,"I":-0.01},

          {"sweep":9,"t":0,"I":0.001},{"sweep":9,"t":0.01,"I":0.001},{"sweep":9,"t":0.02,"I":-0.001},{"sweep":9,"t":0.03,"I":0.003},{"sweep":9,"t":0.038,"I":0},{"sweep":9,"t":0.04,"I":-0.01},{"sweep":9,"t":0.046,"I":-0.012},{"sweep":9,"t":0.049,"I":-0.015},{"sweep":9,"t":0.05,"I":-0.002},{"sweep":9,"t":0.06,"I":-0.003},{"sweep":9,"t":0.07,"I":-0.001},{"sweep":9,"t":0.08,"I":-0.003},{"sweep":9,"t":0.09,"I":-0.001},{"sweep":9,"t":0.0995,"I":-0.004},
          {"sweep":9,"t":0.1,"I":-0.105},{"sweep":9,"t":0.1003,"I":0.197},{"sweep":9,"t":0.104,"I":0.175},
          {"sweep":9,"t":0.11,"I":0.192},{"sweep":9,"t":0.115,"I":0.193},{"sweep":9,"t":0.12,"I":0.187},{"sweep":9,"t":0.125,"I":0.205},{"sweep":9,"t":0.13,"I":0.204},{"sweep":9,"t":0.135,"I":0.219},{"sweep":9,"t":0.14,"I":0.211},{"sweep":9,"t":0.145,"I":0.222},{"sweep":9,"t":0.15,"I":0.218},{"sweep":9,"t":0.155,"I":0.235},{"sweep":9,"t":0.16,"I":0.241},{"sweep":9,"t":0.165,"I":0.235},{"sweep":9,"t":0.17,"I":0.243},{"sweep":9,"t":0.175,"I":0.258},{"sweep":9,"t":0.18,"I":0.251},{"sweep":9,"t":0.185,"I":0.262},{"sweep":9,"t":0.19,"I":0.271},{"sweep":9,"t":0.195,"I":0.262},{"sweep":9,"t":0.2,"I":0.278},{"sweep":9,"t":0.205,"I":0.279},{"sweep":9,"t":0.21,"I":0.292},{"sweep":9,"t":0.215,"I":0.284},{"sweep":9,"t":0.22,"I":0.302},{"sweep":9,"t":0.225,"I":0.294},{"sweep":9,"t":0.23,"I":0.305},{"sweep":9,"t":0.235,"I":0.307},{"sweep":9,"t":0.24,"I":0.314},{"sweep":9,"t":0.245,"I":0.307},{"sweep":9,"t":0.25,"I":0.319},{"sweep":9,"t":0.255,"I":0.33},{"sweep":9,"t":0.26,"I":0.322},{"sweep":9,"t":0.265,"I":0.321},{"sweep":9,"t":0.27,"I":0.337},{"sweep":9,"t":0.275,"I":0.337},{"sweep":9,"t":0.28,"I":0.334},{"sweep":9,"t":0.285,"I":0.351},{"sweep":9,"t":0.29,"I":0.349},{"sweep":9,"t":0.295,"I":0.342},{"sweep":9,"t":0.3,"I":0.35},{"sweep":9,"t":0.305,"I":0.361},{"sweep":9,"t":0.31,"I":0.368},{"sweep":9,"t":0.315,"I":0.357},{"sweep":9,"t":0.32,"I":0.362},{"sweep":9,"t":0.325,"I":0.357},{"sweep":9,"t":0.33,"I":0.372},{"sweep":9,"t":0.335,"I":0.377},{"sweep":9,"t":0.34,"I":0.369},{"sweep":9,"t":0.345,"I":0.376},{"sweep":9,"t":0.35,"I":0.369},{"sweep":9,"t":0.355,"I":0.384},{"sweep":9,"t":0.36,"I":0.389},{"sweep":9,"t":0.365,"I":0.376},{"sweep":9,"t":0.37,"I":0.383},{"sweep":9,"t":0.375,"I":0.378},{"sweep":9,"t":0.38,"I":0.389},{"sweep":9,"t":0.385,"I":0.385},{"sweep":9,"t":0.39,"I":0.396},{"sweep":9,"t":0.395,"I":0.383},{"sweep":9,"t":0.4,"I":0.387},
          {"sweep":9,"t":0.4003,"I":-0.36},{"sweep":9,"t":0.402,"I":-0.18},{"sweep":9,"t":0.406,"I":-0.1},{"sweep":9,"t":0.41,"I":-0.075},{"sweep":9,"t":0.42,"I":-0.062},{"sweep":9,"t":0.43,"I":-0.05},{"sweep":9,"t":0.44,"I":-0.058},{"sweep":9,"t":0.45,"I":-0.047},{"sweep":9,"t":0.46,"I":-0.061},{"sweep":9,"t":0.47,"I":-0.053},{"sweep":9,"t":0.48,"I":-0.049},{"sweep":9,"t":0.49,"I":-0.059},{"sweep":9,"t":0.5,"I":-0.052},{"sweep":9,"t":0.51,"I":-0.064},{"sweep":9,"t":0.52,"I":-0.055},{"sweep":9,"t":0.53,"I":-0.05},{"sweep":9,"t":0.54,"I":-0.061},{"sweep":9,"t":0.55,"I":-0.054},{"sweep":9,"t":0.56,"I":-0.066},{"sweep":9,"t":0.57,"I":-0.056},{"sweep":9,"t":0.58,"I":-0.051},{"sweep":9,"t":0.59,"I":-0.062},{"sweep":9,"t":0.6,"I":-0.057},
          {"sweep":9,"t":0.6003,"I":-0.024},{"sweep":9,"t":0.61,"I":-0.029},{"sweep":9,"t":0.62,"I":-0.019},{"sweep":9,"t":0.63,"I":-0.025},{"sweep":9,"t":0.64,"I":-0.016},{"sweep":9,"t":0.65,"I":-0.021},{"sweep":9,"t":0.66,"I":-0.015},{"sweep":9,"t":0.67,"I":-0.017},{"sweep":9,"t":0.68,"I":-0.013},{"sweep":9,"t":0.69,"I":-0.015},{"sweep":9,"t":0.7,"I":-0.011},

          {"sweep":10,"t":0,"I":0},{"sweep":10,"t":0.01,"I":-0.001},{"sweep":10,"t":0.02,"I":0.002},{"sweep":10,"t":0.03,"I":0},{"sweep":10,"t":0.038,"I":0.002},{"sweep":10,"t":0.04,"I":-0.012},{"sweep":10,"t":0.046,"I":-0.013},{"sweep":10,"t":0.049,"I":-0.018},{"sweep":10,"t":0.05,"I":-0.004},{"sweep":10,"t":0.06,"I":-0.001},{"sweep":10,"t":0.07,"I":-0.004},{"sweep":10,"t":0.08,"I":-0.002},{"sweep":10,"t":0.09,"I":-0.002},{"sweep":10,"t":0.0995,"I":-0.001},
          {"sweep":10,"t":0.1,"I":-0.108},{"sweep":10,"t":0.1003,"I":0.201},{"sweep":10,"t":0.104,"I":0.179},
          {"sweep":10,"t":0.11,"I":0.182},{"sweep":10,"t":0.115,"I":0.177},{"sweep":10,"t":0.12,"I":0.194},{"sweep":10,"t":0.125,"I":0.193},{"sweep":10,"t":0.13,"I":0.194},{"sweep":10,"t":0.135,"I":0.213},{"sweep":10,"t":0.14,"I":0.207},{"sweep":10,"t":0.145,"I":0.216},{"sweep":10,"t":0.15,"I":0.213},{"sweep":10,"t":0.155,"I":0.23},{"sweep":10,"t":0.16,"I":0.221},{"sweep":10,"t":0.165,"I":0.238},{"sweep":10,"t":0.17,"I":0.236},{"sweep":10,"t":0.175,"I":0.242},{"sweep":10,"t":0.18,"I":0.243},{"sweep":10,"t":0.185,"I":0.258},{"sweep":10,"t":0.19,"I":0.254},{"sweep":10,"t":0.195,"I":0.251},{"sweep":10,"t":0.2,"I":0.267},{"sweep":10,"t":0.205,"I":0.276},{"sweep":10,"t":0.21,"I":0.267},{"sweep":10,"t":0.215,"I":0.275},{"sweep":10,"t":0.22,"I":0.285},{"sweep":10,"t":0.225,"I":0.276},{"sweep":10,"t":0.23,"I":0.285},{"sweep":10,"t":0.235,"I":0.299},{"sweep":10,"t":0.24,"I":0.298},{"sweep":10,"t":0.245,"I":0.294},{"sweep":10,"t":0.25,"I":0.295},{"sweep":10,"t":0.255,"I":0.314},{"sweep":10,"t":0.26,"I":0.315},{"sweep":10,"t":0.265,"I":0.327},{"sweep":10,"t":0.27,"I":0.318},{"sweep":10,"t":0.275,"I":0.319},{"sweep":10,"t":0.28,"I":0.333},{"sweep":10,"t":0.285,"I":0.332},{"sweep":10,"t":0.29,"I":0.345},{"sweep":10,"t":0.295,"I":0.336},{"sweep":10,"t":0.3,"I":0.335},{"sweep":10,"t":0.305,"I":0.354},{"sweep":10,"t":0.31,"I":0.351},{"sweep":10,"t":0.315,"I":0.361},{"sweep":10,"t":0.32,"I":0.354},{"sweep":10,"t":0.325,"I":0.363},{"sweep":10,"t":0.33,"I":0.355},{"sweep":10,"t":0.335,"I":0.371},{"sweep":10,"t":0.34,"I":0.37},{"sweep":10,"t":0.345,"I":0.362},{"sweep":10,"t":0.35,"I":0.368},{"sweep":10,"t":0.355,"I":0.381},{"sweep":10,"t":0.36,"I":0.37},{"sweep":10,"t":0.365,"I":0.378},{"sweep":10,"t":0.37,"I":0.369},{"sweep":10,"t":0.375,"I":0.384},{"sweep":10,"t":0.38,"I":0.379},{"sweep":10,"t":0.385,"I":0.389},{"sweep":10,"t":0.39,"I":0.378},{"sweep":10,"t":0.395,"I":0.378},{"sweep":10,"t":0.4,"I":0.39},
          {"sweep":10,"t":0.4003,"I":-0.36},{"sweep":10,"t":0.402,"I":-0.2},{"sweep":10,"t":0.406,"I":-0.13},{"sweep":10,"t":0.41,"I":-0.11},{"sweep":10,"t":0.42,"I":-0.098},{"sweep":10,"t":0.425,"I":-0.088},{"sweep":10,"t":0.43,"I":-0.093},{"sweep":10,"t":0.435,"I":-0.084},{"sweep":10,"t":0.44,"I":-0.097},{"sweep":10,"t":0.445,"I":-0.09},{"sweep":10,"t":0.45,"I":-0.086},{"sweep":10,"t":0.455,"I":-0.095},{"sweep":10,"t":0.46,"I":-0.091},{"sweep":10,"t":0.465,"I":-0.082},{"sweep":10,"t":0.47,"I":-0.094},{"sweep":10,"t":0.475,"I":-0.088},{"sweep":10,"t":0.48,"I":-0.097},{"sweep":10,"t":0.485,"I":-0.09},{"sweep":10,"t":0.49,"I":-0.085},{"sweep":10,"t":0.495,"I":-0.096},{"sweep":10,"t":0.5,"I":-0.093},{"sweep":10,"t":0.505,"I":-0.101},{"sweep":10,"t":0.51,"I":-0.092},{"sweep":10,"t":0.515,"I":-0.098},{"sweep":10,"t":0.52,"I":-0.104},{"sweep":10,"t":0.525,"I":-0.095},{"sweep":10,"t":0.53,"I":-0.1},{"sweep":10,"t":0.535,"I":-0.108},{"sweep":10,"t":0.54,"I":-0.099},{"sweep":10,"t":0.545,"I":-0.104},{"sweep":10,"t":0.55,"I":-0.111},{"sweep":10,"t":0.555,"I":-0.1},{"sweep":10,"t":0.56,"I":-0.106},{"sweep":10,"t":0.565,"I":-0.098},{"sweep":10,"t":0.57,"I":-0.109},{"sweep":10,"t":0.575,"I":-0.103},{"sweep":10,"t":0.58,"I":-0.112},{"sweep":10,"t":0.585,"I":-0.101},{"sweep":10,"t":0.59,"I":-0.107},{"sweep":10,"t":0.595,"I":-0.11},{"sweep":10,"t":0.6,"I":-0.104},
          {"sweep":10,"t":0.6003,"I":-0.028},{"sweep":10,"t":0.61,"I":-0.033},{"sweep":10,"t":0.62,"I":-0.023},{"sweep":10,"t":0.63,"I":-0.028},{"sweep":10,"t":0.64,"I":-0.019},{"sweep":10,"t":0.65,"I":-0.024},{"sweep":10,"t":0.66,"I":-0.017},{"sweep":10,"t":0.67,"I":-0.019},{"sweep":10,"t":0.68,"I":-0.014},{"sweep":10,"t":0.69,"I":-0.016},{"sweep":10,"t":0.7,"I":-0.012},

          {"sweep":11,"t":0,"I":0.002},{"sweep":11,"t":0.01,"I":0.001},{"sweep":11,"t":0.02,"I":0},{"sweep":11,"t":0.03,"I":-0.001},{"sweep":11,"t":0.038,"I":0.001},{"sweep":11,"t":0.04,"I":-0.011},{"sweep":11,"t":0.046,"I":-0.015},{"sweep":11,"t":0.049,"I":-0.02},{"sweep":11,"t":0.05,"I":-0.003},{"sweep":11,"t":0.06,"I":-0.002},{"sweep":11,"t":0.07,"I":-0.001},{"sweep":11,"t":0.08,"I":0},{"sweep":11,"t":0.09,"I":-0.004},{"sweep":11,"t":0.0995,"I":-0.003},
          {"sweep":11,"t":0.1,"I":-0.11},{"sweep":11,"t":0.1003,"I":0.199},{"sweep":11,"t":0.104,"I":0.176},
          {"sweep":11,"t":0.11,"I":0.19},{"sweep":11,"t":0.115,"I":0.18},{"sweep":11,"t":0.12,"I":0.187},{"sweep":11,"t":0.125,"I":0.183},{"sweep":11,"t":0.13,"I":0.2},{"sweep":11,"t":0.135,"I":0.207},{"sweep":11,"t":0.14,"I":0.201},{"sweep":11,"t":0.145,"I":0.21},{"sweep":11,"t":0.15,"I":0.205},{"sweep":11,"t":0.155,"I":0.222},{"sweep":11,"t":0.16,"I":0.23},{"sweep":11,"t":0.165,"I":0.219},{"sweep":11,"t":0.17,"I":0.229},{"sweep":11,"t":0.175,"I":0.226},{"sweep":11,"t":0.18,"I":0.24},{"sweep":11,"t":0.185,"I":0.238},{"sweep":11,"t":0.19,"I":0.252},{"sweep":11,"t":0.195,"I":0.242},{"sweep":11,"t":0.2,"I":0.249},{"sweep":11,"t":0.205,"I":0.263},{"sweep":11,"t":0.21,"I":0.263},{"sweep":11,"t":0.215,"I":0.256},{"sweep":11,"t":0.22,"I":0.273},{"sweep":11,"t":0.225,"I":0.271},{"sweep":11,"t":0.23,"I":0.285},{"sweep":11,"t":0.235,"I":0.276},{"sweep":11,"t":0.24,"I":0.286},{"sweep":11,"t":0.245,"I":0.281},{"sweep":11,"t":0.25,"I":0.297},{"sweep":11,"t":0.255,"I":0.302},{"sweep":11,"t":0.26,"I":0.295},{"sweep":11,"t":0.265,"I":0.302},{"sweep":11,"t":0.27,"I":0.316},{"sweep":11,"t":0.275,"I":0.308},{"sweep":11,"t":0.28,"I":0.318},{"sweep":11,"t":0.285,"I":0.326},{"sweep":11,"t":0.29,"I":0.315},{"sweep":11,"t":0.295,"I":0.33},{"sweep":11,"t":0.3,"I":0.329},{"sweep":11,"t":0.305,"I":0.341},{"sweep":11,"t":0.31,"I":0.332},{"sweep":11,"t":0.315,"I":0.349},{"sweep":11,"t":0.32,"I":0.34},{"sweep":11,"t":0.325,"I":0.35},{"sweep":11,"t":0.33,"I":0.351},{"sweep":11,"t":0.335,"I":0.357},{"sweep":11,"t":0.34,"I":0.348},{"sweep":11,"t":0.345,"I":0.359},{"sweep":11,"t":0.35,"I":0.368},{"sweep":11,"t":0.355,"I":0.358},{"sweep":11,"t":0.36,"I":0.355},{"sweep":11,"t":0.365,"I":0.37},{"sweep":11,"t":0.37,"I":0.368},{"sweep":11,"t":0.375,"I":0.364},{"sweep":11,"t":0.38,"I":0.378},{"sweep":11,"t":0.385,"I":0.375},{"sweep":11,"t":0.39,"I":0.366},{"sweep":11,"t":0.395,"I":0.372},{"sweep":11,"t":0.4,"I":0.381},
          {"sweep":11,"t":0.4003,"I":-0.36},{"sweep":11,"t":0.402,"I":-0.23},{"sweep":11,"t":0.406,"I":-0.16},{"sweep":11,"t":0.41,"I":-0.14},{"sweep":11,"t":0.42,"I":-0.13},{"sweep":11,"t":0.425,"I":-0.119},{"sweep":11,"t":0.43,"I":-0.127},{"sweep":11,"t":0.435,"I":-0.116},{"sweep":11,"t":0.44,"I":-0.131},{"sweep":11,"t":0.445,"I":-0.121},{"sweep":11,"t":0.45,"I":-0.114},{"sweep":11,"t":0.455,"I":-0.126},{"sweep":11,"t":0.46,"I":-0.12},{"sweep":11,"t":0.465,"I":-0.132},{"sweep":11,"t":0.47,"I":-0.118},{"sweep":11,"t":0.475,"I":-0.125},{"sweep":11,"t":0.48,"I":-0.135},{"sweep":11,"t":0.485,"I":-0.123},{"sweep":11,"t":0.49,"I":-0.129},{"sweep":11,"t":0.495,"I":-0.12},{"sweep":11,"t":0.5,"I":-0.134},{"sweep":11,"t":0.505,"I":-0.127},{"sweep":11,"t":0.51,"I":-0.138},{"sweep":11,"t":0.515,"I":-0.13},{"sweep":11,"t":0.52,"I":-0.142},{"sweep":11,"t":0.525,"I":-0.133},{"sweep":11,"t":0.53,"I":-0.145},{"sweep":11,"t":0.535,"I":-0.139},{"sweep":11,"t":0.54,"I":-0.151},{"sweep":11,"t":0.545,"I":-0.141},{"sweep":11,"t":0.55,"I":-0.155},{"sweep":11,"t":0.555,"I":-0.144},{"sweep":11,"t":0.56,"I":-0.149},{"sweep":11,"t":0.565,"I":-0.137},{"sweep":11,"t":0.57,"I":-0.146},{"sweep":11,"t":0.575,"I":-0.138},{"sweep":11,"t":0.58,"I":-0.15},{"sweep":11,"t":0.585,"I":-0.14},{"sweep":11,"t":0.59,"I":-0.147},{"sweep":11,"t":0.595,"I":-0.136},{"sweep":11,"t":0.6,"I":-0.143},
          {"sweep":11,"t":0.6003,"I":-0.033},{"sweep":11,"t":0.61,"I":-0.037},{"sweep":11,"t":0.62,"I":-0.026},{"sweep":11,"t":0.63,"I":-0.031},{"sweep":11,"t":0.64,"I":-0.021},{"sweep":11,"t":0.65,"I":-0.026},{"sweep":11,"t":0.66,"I":-0.019},{"sweep":11,"t":0.67,"I":-0.02},{"sweep":11,"t":0.68,"I":-0.016},{"sweep":11,"t":0.69,"I":-0.017},{"sweep":11,"t":0.7,"I":-0.013},

          {"sweep":12,"t":0,"I":-0.001},{"sweep":12,"t":0.01,"I":0},{"sweep":12,"t":0.02,"I":0.002},{"sweep":12,"t":0.03,"I":0.001},{"sweep":12,"t":0.038,"I":0.003},{"sweep":12,"t":0.04,"I":-0.01},{"sweep":12,"t":0.046,"I":-0.012},{"sweep":12,"t":0.049,"I":-0.016},{"sweep":12,"t":0.05,"I":-0.005},{"sweep":12,"t":0.06,"I":-0.003},{"sweep":12,"t":0.07,"I":-0.002},{"sweep":12,"t":0.08,"I":-0.003},{"sweep":12,"t":0.09,"I":-0.001},{"sweep":12,"t":0.0995,"I":-0.002},
          {"sweep":12,"t":0.1,"I":-0.109},{"sweep":12,"t":0.1003,"I":0.195},{"sweep":12,"t":0.104,"I":0.173},
          {"sweep":12,"t":0.11,"I":0.181},{"sweep":12,"t":0.115,"I":0.178},{"sweep":12,"t":0.12,"I":0.195},{"sweep":12,"t":0.125,"I":0.186},{"sweep":12,"t":0.13,"I":0.203},{"sweep":12,"t":0.135,"I":0.201},{"sweep":12,"t":0.14,"I":0.208},{"sweep":12,"t":0.145,"I":0.21},{"sweep":12,"t":0.15,"I":0.226},{"sweep":12,"t":0.155,"I":0.223},{"sweep":12,"t":0.16,"I":0.221},{"sweep":12,"t":0.165,"I":0.236},{"sweep":12,"t":0.17,"I":0.243},{"sweep":12,"t":0.175,"I":0.233},{"sweep":12,"t":0.18,"I":0.239},{"sweep":12,"t":0.185,"I":0.248},{"sweep":12,"t":0.19,"I":0.237},{"sweep":12,"t":0.195,"I":0.245},{"sweep":12,"t":0.2,"I":0.257},{"sweep":12,"t":0.205,"I":0.255},{"sweep":12,"t":0.21,"I":0.249},{"sweep":12,"t":0.215,"I":0.248},{"sweep":12,"t":0.22,"I":0.264},{"sweep":12,"t":0.225,"I":0.266},{"sweep":12,"t":0.23,"I":0.279},{"sweep":12,"t":0.235,"I":0.271},{"sweep":12,"t":0.24,"I":0.273},{"sweep":12,"t":0.245,"I":0.288},{"sweep":12,"t":0.25,"I":0.288},{"sweep":12,"t":0.255,"I":0.302},{"sweep":12,"t":0.26,"I":0.294},{"sweep":12,"t":0.265,"I":0.295},{"sweep":12,"t":0.27,"I":0.315},{"sweep":12,"t":0.275,"I":0.312},{"sweep":12,"t":0.28,"I":0.321},{"sweep":12,"t":0.285,"I":0.314},{"sweep":12,"t":0.29,"I":0.322},{"sweep":12,"t":0.295,"I":0.317},{"sweep":12,"t":0.3,"I":0.336},{"sweep":12,"t":0.305,"I":0.336},{"sweep":12,"t":0.31,"I":0.328},{"sweep":12,"t":0.315,"I":0.335},{"sweep":12,"t":0.32,"I":0.348},{"sweep":12,"t":0.325,"I":0.338},{"sweep":12,"t":0.33,"I":0.346},{"sweep":12,"t":0.335,"I":0.339},{"sweep":12,"t":0.34,"I":0.354},{"sweep":12,"t":0.345,"I":0.351},{"sweep":12,"t":0.35,"I":0.362},{"sweep":12,"t":0.355,"I":0.353},{"sweep":12,"t":0.36,"I":0.354},{"sweep":12,"t":0.365,"I":0.365},{"sweep":12,"t":0.37,"I":0.362},{"sweep":12,"t":0.375,"I":0.355},{"sweep":12,"t":0.38,"I":0.369},{"sweep":12,"t":0.385,"I":0.366},{"sweep":12,"t":0.39,"I":0.364},{"sweep":12,"t":0.395,"I":0.378},{"sweep":12,"t":0.4,"I":0.367},
          {"sweep":12,"t":0.4003,"I":-0.36},{"sweep":12,"t":0.402,"I":-0.27},{"sweep":12,"t":0.406,"I":-0.23},{"sweep":12,"t":0.41,"I":-0.21},{"sweep":12,"t":0.42,"I":-0.195},{"sweep":12,"t":0.425,"I":-0.182},{"sweep":12,"t":0.43,"I":-0.205},{"sweep":12,"t":0.435,"I":-0.186},{"sweep":12,"t":0.44,"I":-0.172},{"sweep":12,"t":0.445,"I":-0.194},{"sweep":12,"t":0.45,"I":-0.183},{"sweep":12,"t":0.455,"I":-0.2},{"sweep":12,"t":0.46,"I":-0.178},{"sweep":12,"t":0.465,"I":-0.188},{"sweep":12,"t":0.47,"I":-0.165},{"sweep":12,"t":0.475,"I":-0.182},{"sweep":12,"t":0.48,"I":-0.174},{"sweep":12,"t":0.485,"I":-0.196},{"sweep":12,"t":0.49,"I":-0.185},{"sweep":12,"t":0.495,"I":-0.203},{"sweep":12,"t":0.5,"I":-0.19},{"sweep":12,"t":0.505,"I":-0.208},{"sweep":12,"t":0.51,"I":-0.196},{"sweep":12,"t":0.515,"I":-0.214},{"sweep":12,"t":0.52,"I":-0.2},{"sweep":12,"t":0.525,"I":-0.22},{"sweep":12,"t":0.53,"I":-0.205},{"sweep":12,"t":0.535,"I":-0.228},{"sweep":12,"t":0.54,"I":-0.212},{"sweep":12,"t":0.545,"I":-0.235},{"sweep":12,"t":0.55,"I":-0.218},{"sweep":12,"t":0.555,"I":-0.198},{"sweep":12,"t":0.56,"I":-0.225},{"sweep":12,"t":0.565,"I":-0.242},{"sweep":12,"t":0.57,"I":-0.22},{"sweep":12,"t":0.575,"I":-0.238},{"sweep":12,"t":0.58,"I":-0.226},{"sweep":12,"t":0.585,"I":-0.25},{"sweep":12,"t":0.59,"I":-0.232},{"sweep":12,"t":0.595,"I":-0.255},{"sweep":12,"t":0.6,"I":-0.24},
          {"sweep":12,"t":0.6003,"I":-0.04},{"sweep":12,"t":0.61,"I":-0.043},{"sweep":12,"t":0.62,"I":-0.031},{"sweep":12,"t":0.63,"I":-0.035},{"sweep":12,"t":0.64,"I":-0.025},{"sweep":12,"t":0.65,"I":-0.029},{"sweep":12,"t":0.66,"I":-0.02},{"sweep":12,"t":0.67,"I":-0.025},{"sweep":12,"t":0.68,"I":-0.016},{"sweep":12,"t":0.69,"I":-0.021},{"sweep":12,"t":0.7,"I":-0.015}
        ]
      },
      "mark": {"type": "line", "color": "black", "strokeWidth": 1.4},
      "encoding": {
        "x": {
          "field": "t",
          "type": "quantitative",
          "scale": {"domain": [0.0015, 0.7], "nice": false, "zero": false},
          "axis": {
            "values": [0.1, 0.4, 0.6],
            "format": ".1f",
            "title": "t [s]",
            "grid": false,
            "tickSize": -6,
            "labelPadding": 19,
            "labelFontSize": 22,
            "labelColor": "#262626",
            "labelFont": "DejaVu Sans",
            "domainColor": "#4d4d4d",
            "tickColor": "#4d4d4d",
            "titleFontSize": 24,
            "titleFontWeight": "normal",
            "titleColor": "#262626",
            "titleFont": "DejaVu Sans",
            "titleBaseline": "middle",
            "titleX": 302,
            "titleY": 55
          }
        },
        "y": {
          "field": "I",
          "type": "quantitative",
          "scale": {"domain": [-0.466, 0.817], "nice": false, "zero": false},
          "axis": {
            "values": [-0.3, 0, 0.3, 0.6],
            "labelExpr": "datum.value == 0 ? '0' : (datum.value < 0 ? '-' + format(-datum.value, '.1f') : format(datum.value, '.1f'))",
            "title": "I [nA]",
            "grid": false,
            "tickSize": -6,
            "labelPadding": 22,
            "labelFontSize": 22,
            "labelColor": "#262626",
            "labelFont": "DejaVu Sans",
            "domainColor": "#4d4d4d",
            "tickColor": "#4d4d4d",
            "titleFontSize": 24,
            "titleFontWeight": "normal",
            "titleColor": "#262626",
            "titleFont": "DejaVu Sans",
            "titleAngle": 270,
            "titleBaseline": "middle",
            "titleX": -72,
            "titleY": 234
          }
        },
        "detail": {"field": "sweep", "type": "nominal"}
      }
    },
    {
      "data": {"values": [{}]},
      "mark": {"type": "text", "text": "TASK5\u00a0 Rat\u00a0 CHO_FT", "align": "left", "baseline": "alphabetic", "fontSize": 23.6, "fontWeight": "bold", "font": "DejaVu Sans", "color": "black"},
      "encoding": {"x": {"datum": 0.0166}, "y": {"datum": 0.866}}
    },
    {
      "data": {"values": [{}]},
      "mark": {"type": "text", "text": "25 °C\u00a0 Deactivation", "align": "right", "baseline": "alphabetic", "fontSize": 19, "font": "DejaVu Sans", "color": "black"},
      "encoding": {"x": {"datum": 0.699}, "y": {"datum": 0.81}}
    },
    {
      "data": {"values": [{}]},
      "mark": {"type": "text", "text": "BBP Channelpedia ID 31752 rep 1", "align": "center", "baseline": "middle", "angle": 270, "fontSize": 14.5, "font": "DejaVu Sans", "color": "black"},
      "encoding": {"x": {"datum": 0.7135}, "y": {"datum": 0.18}}
    }
  ]
}
